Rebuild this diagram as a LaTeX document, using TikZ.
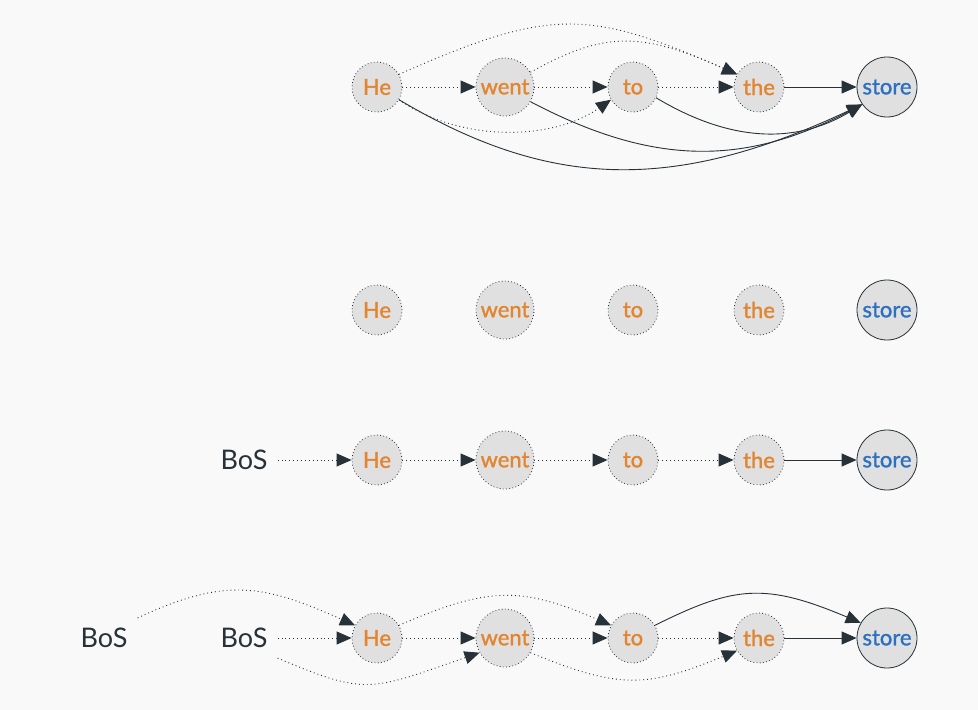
\documentclass[tikz,border=0pt]{standalone}
\usepackage{fontspec}
\setmainfont{Lato}
\newfontfamily\wordfont[FakeBold=1.4]{Lato}
\usetikzlibrary{arrows.meta}
\definecolor{bg}{RGB}{249,249,249}
\definecolor{nodefill}{RGB}{224,224,224}
\definecolor{wordorange}{RGB}{226,133,48}
\definecolor{wordblue}{RGB}{44,112,192}
\definecolor{ink}{RGB}{38,50,56}
\tikzset{
  word/.style={circle, fill=nodefill, draw=ink, line width=0.8pt, dash pattern=on 0.8pt off 2.4pt,
    text=wordorange, inner sep=0pt, minimum size=50pt, font=\wordfont\fontsize{22}{26}\selectfont},
  wideword/.style={word, minimum size=58pt},
  target/.style={circle, fill=nodefill, draw=ink, line width=0.8pt, solid,
    text=wordblue, inner sep=0pt, minimum size=60pt, font=\wordfont\fontsize{22}{26}\selectfont},
  bos/.style={text=ink, inner sep=10pt, font=\fontsize{27}{32}\selectfont},
  tip/.style={-{Triangle[length=15pt,width=13pt]}},
  weak/.style={draw=ink, line width=0.9pt, dash pattern=on 0.9pt off 3pt, tip},
  strong/.style={draw=ink, line width=0.9pt, solid, tip}
}
\begin{document}
\begin{tikzpicture}[x=1pt,y=-1pt]
\useasboundingbox[fill=bg] (0,0) rectangle (978,710);

% ---------- Row 1 ----------
\node[word]     (a1) at (377,87) {He};
\node[wideword] (a2) at (505,87) {went};
\node[word]     (a3) at (633,87) {to};
\node[word]     (a4) at (759,87) {the};
\node[target]   (a5) at (887,87) {store};

\draw[weak] (a1) -- (a2);
\draw[weak] (a2) -- (a3);
\draw[weak] (a3) -- (a4);
\draw[strong] (a4) -- (a5);
\draw[weak] (a1.30) .. controls +(150,-66) and +(-150,-66) .. (a4.150);
\draw[weak] (a2.30) .. controls +(75,-42) and +(-95,-42) .. (a4.150);
\draw[weak] (a1.330) .. controls +(60,42) and +(-60,42) .. (a3.210);
\draw[strong] (a1.330) .. controls +(150,89) and +(-190,89) .. (a5.215);
\draw[strong] (a2.330) .. controls +(120,63) and +(-120,63) .. (a5.215);
\draw[strong] (a3.335) .. controls +(70,42) and +(-70,42) .. (a5.215);

% ---------- Row 2 ----------
\node[word]     (b1) at (377,310) {He};
\node[wideword] (b2) at (505,310) {went};
\node[word]     (b3) at (633,310) {to};
\node[word]     (b4) at (759,310) {the};
\node[target]   (b5) at (887,310) {store};

% ---------- Row 3 ----------
\node[bos]      (c0) at (244,460) {BoS};
\node[word]     (c1) at (377,460) {He};
\node[wideword] (c2) at (505,460) {went};
\node[word]     (c3) at (633,460) {to};
\node[word]     (c4) at (759,460) {the};
\node[target]   (c5) at (887,460) {store};

\draw[weak] (c0) -- (c1);
\draw[weak] (c1) -- (c2);
\draw[weak] (c2) -- (c3);
\draw[weak] (c3) -- (c4);
\draw[strong] (c4) -- (c5);

% ---------- Row 4 ----------
\node[bos]      (dL) at (104,638) {BoS};
\node[bos]      (d0) at (244,638) {BoS};
\node[word]     (d1) at (377,638) {He};
\node[wideword] (d2) at (505,638) {went};
\node[word]     (d3) at (633,638) {to};
\node[word]     (d4) at (759,638) {the};
\node[target]   (d5) at (887,638) {store};

\draw[weak] (d0) -- (d1);
\draw[weak] (d1) -- (d2);
\draw[weak] (d2) -- (d3);
\draw[weak] (d3) -- (d4);
\draw[strong] (d4) -- (d5);
\draw[weak] (dL.north east) .. controls +(88,-41) and +(-92,-41) .. (d1.150);
\draw[weak] (d0.south east) .. controls +(90,38) and +(-110,38) .. (d2.210);
\draw[weak] (d1.30) .. controls +(90,-39) and +(-90,-39) .. (d3.150);
\draw[weak] (d2.330) .. controls +(90,37) and +(-90,37) .. (d4.210);
\draw[strong] (d3.30) .. controls +(80,-40) and +(-95,-40) .. (d5.150);
\end{tikzpicture}
\end{document}
